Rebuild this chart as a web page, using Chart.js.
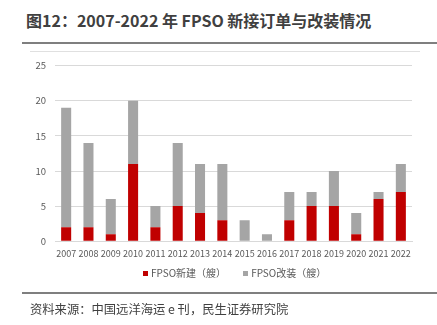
<!DOCTYPE html>
<html>
<head>
<meta charset="utf-8">
<script src="https://cdn.jsdelivr.net/npm/chart.js@4"></script>
<style>
  html, body { margin: 0; padding: 0; background: #fff; }
  body { width: 437px; height: 325px; position: relative; overflow: hidden; font-family: "Noto Sans CJK SC", "Noto Sans", sans-serif; }
  #title { position: absolute; left: 26px; top: 8px; font-size: 16px; font-weight: bold; color: #404040; white-space: nowrap; }
  .rule { position: absolute; left: 22px; width: 415px; height: 1.5px; background: #7f7f7f; }
  #frame { position: absolute; left: 30px; top: 51px; width: 390px; height: 1px; background: #e0e0e0; }
  #box { position: absolute; left: 30px; top: 51px; width: 390px; height: 240px; }
  #legend { position: absolute; left: 143px; top: 265px; font-size: 10px; color: #595959; white-space: nowrap; line-height: 16px; }
  #legend span.sw { display: inline-block; width: 5px; height: 5px; margin-right: 3px; vertical-align: 1px; }
  #legend span.item { margin-right: 17px; }
  #source { position: absolute; left: 30px; top: 300px; font-size: 12.3px; color: #404040; white-space: nowrap; }
</style>
</head>
<body>
<div id="title">图12：2007-2022 年 FPSO 新接订单与改装情况</div>
<div class="rule" style="top:42px"></div>
<div id="frame"></div>
<div id="box"><canvas id="chart"></canvas></div>
<div id="legend"></div>
<div class="rule" style="top:292px"></div>
<div id="source">资料来源：中国远洋海运 e 刊，民生证券研究院</div>
<script>
const years = ['2007', '2008', '2009', '2010', '2011', '2012', '2013', '2014', '2015', '2016', '2017', '2018', '2019', '2020', '2021', '2022'];
const newBuild = [2, 2, 1, 11, 2, 5, 4, 3, 0, 0, 3, 5, 5, 1, 6, 7];
const conversion = [17, 12, 5, 9, 3, 9, 7, 8, 3, 1, 4, 2, 5, 3, 1, 4];
const yTicks = [0, 5, 10, 15, 20, 25];

const tickFont = { family: '"Noto Sans CJK SC", "Noto Sans", sans-serif', size: 9 };

const chart = new Chart(document.getElementById('chart'), {
  type: 'bar',
  data: {
    labels: years,
    datasets: [
      { label: 'FPSO新建（艘）', data: newBuild, backgroundColor: '#C00000', stack: 's' },
      { label: 'FPSO改装（艘）', data: conversion, backgroundColor: '#A5A5A5', stack: 's' }
    ]
  },
  options: {
    responsive: true,
    maintainAspectRatio: false,
    animation: false,
    layout: { padding: { top: 10, right: 8, left: 0, bottom: 25 } },
    datasets: { bar: { categoryPercentage: 1, barPercentage: 0.45 } },
    plugins: {
      tooltip: { enabled: false },
      legend: { display: false }
    },
    scales: {
      x: {
        stacked: true,
        grid: { display: false, drawTicks: false },
        border: { color: '#d9d9d9' },
        ticks: { color: '#595959', font: tickFont, autoSkip: false, maxRotation: 0, padding: 7 }
      },
      y: {
        stacked: true,
        min: 0, max: 25,
        afterBuildTicks: (s) => { s.ticks = yTicks.map(v => ({ value: v })); },
        afterFit: (s) => { s.width = 25; },
        grid: { color: '#d9d9d9', drawTicks: false },
        border: { display: false },
        ticks: { color: '#595959', font: { family: tickFont.family, size: 9.5 }, padding: 9 }
      }
    }
  }
});

// legend built from the chart's datasets
document.getElementById('legend').innerHTML = chart.data.datasets.map(d =>
  '<span class="item"><span class="sw" style="background:' + d.backgroundColor + '"></span>' + d.label + '</span>'
).join('');
</script>
</body>
</html>
